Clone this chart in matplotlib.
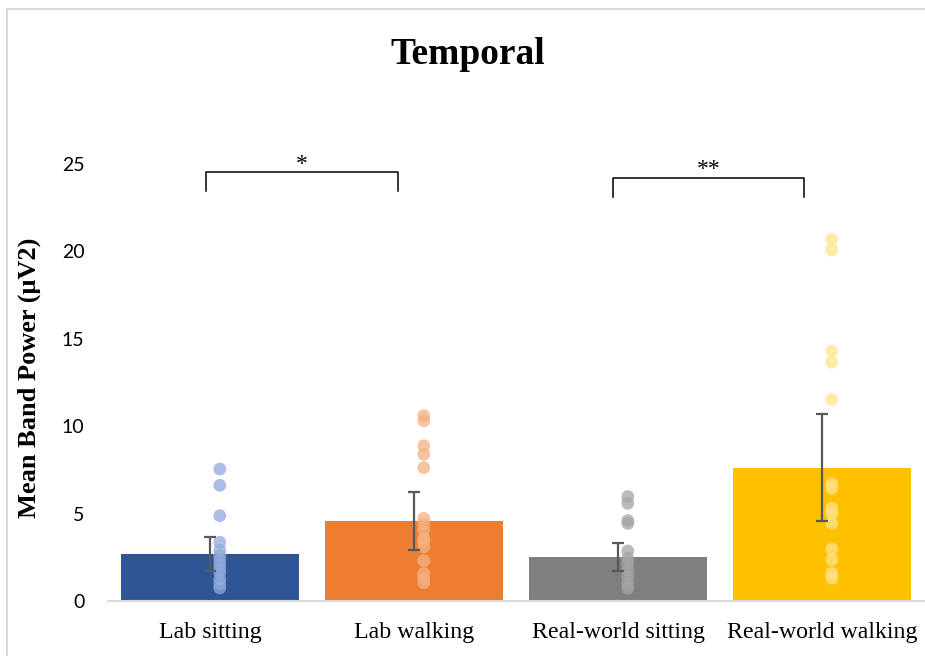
import numpy as np
import matplotlib.pyplot as plt
from matplotlib.patches import Rectangle

# conditions and summary values
conditions = ['Lab sitting', 'Lab walking', 'Real-world sitting', 'Real-world walking']
means = [2.7, 4.58, 2.52, 7.6]
err_low = [1.73, 2.92, 1.73, 4.56]
err_high = [3.66, 6.24, 3.34, 10.7]

# individual participant values
lab_sit = [7.55, 6.62, 4.88, 3.36, 2.9, 2.6, 2.35, 2.1, 1.85, 1.6, 1.25, 1.0, 0.75]
lab_walk = [10.6, 10.31, 8.88, 8.39, 7.63, 4.73, 4.4, 4.06, 3.58, 3.4, 3.1, 2.31, 1.58, 1.3, 1.05]
rw_sit = [5.97, 5.59, 4.6, 4.44, 2.86, 2.44, 2.16, 1.77, 1.39, 1.01, 0.73]
rw_walk = [20.69, 20.08, 14.3, 13.66, 11.54, 6.73, 6.45, 5.3, 5.02, 4.45, 2.96, 2.35, 1.58, 1.3]
points = [lab_sit, lab_walk, rw_sit, rw_walk]

bar_colors = ['#2F5597', '#ED7D31', '#7F7F7F', '#FFC000']
dot_colors = ['#8FAADC', '#F4B183', '#A5A5A5', '#FFE38A']

fig = plt.figure(figsize=(9.25, 6.56), dpi=100)
ax = fig.add_axes([108/925, 1-601/656, 816/925, (601-164)/656])

x = np.arange(len(conditions))
ax.bar(x, means, width=0.87, color=bar_colors, zorder=1)

for i, vals in enumerate(points):
    ax.scatter(np.full(len(vals), x[i] + 0.048), vals, s=85, color=dot_colors[i],
               alpha=0.75, edgecolors='none', zorder=2, clip_on=False)

yerr = [np.array(means) - np.array(err_low), np.array(err_high) - np.array(means)]
ax.errorbar(x, means, yerr=yerr, fmt='none', ecolor='#595959', elinewidth=1.6,
            capsize=4.5, capthick=1.6, zorder=3)

ax.set_xlim(-0.5, 3.5)
ax.set_ylim(0, 25)
ax.set_yticks([0, 5, 10, 15, 20, 25])
ax.set_xticks(x)
ax.set_xticklabels(conditions, fontsize=17.2, fontfamily='Liberation Serif')
for lab in ax.get_yticklabels():
    lab.set_fontfamily('Lato')
    lab.set_fontsize(14)
ax.tick_params(axis='y', length=0, pad=17)
ax.tick_params(axis='x', length=0, pad=15)
for s in ['top', 'right', 'left']:
    ax.spines[s].set_visible(False)
ax.spines['bottom'].set_color('#D9D9D9')
ax.spines['bottom'].set_linewidth(1.5)

ax.set_ylabel('Mean Band Power (μV2)', fontsize=19, fontweight='bold',
              fontfamily='Liberation Serif')
ax.yaxis.set_label_coords(-67/816, 0.51)

# significance brackets
def bracket(x0, x1, ytop, ybot, label, ytext):
    ax.plot([x0, x0, x1, x1], [ybot, ytop, ytop, ybot], color='black', lw=1.1,
            clip_on=False, solid_joinstyle='round')
    ax.text((x0 + x1) / 2, ytext, label, ha='center', va='center', fontsize=17,
            fontfamily='Liberation Serif', clip_on=False)

bracket(-0.02, 0.92, 24.54, 23.46, '*', 25.0)
bracket(1.975, 2.91, 24.2, 23.1, '**', 24.7)

fig.text(468/925, 1-54/656, 'Temporal', ha='center', va='center', fontsize=27,
         fontweight='bold', fontfamily='Liberation Serif')

# outer chart frame
fig.patches.append(Rectangle((7/925, -0.2), 2, 1.2 - 9/656, transform=fig.transFigure,
                             fill=False, edgecolor='#D9D9D9', lw=1.5))

fig.savefig('out.png', dpi=100)
